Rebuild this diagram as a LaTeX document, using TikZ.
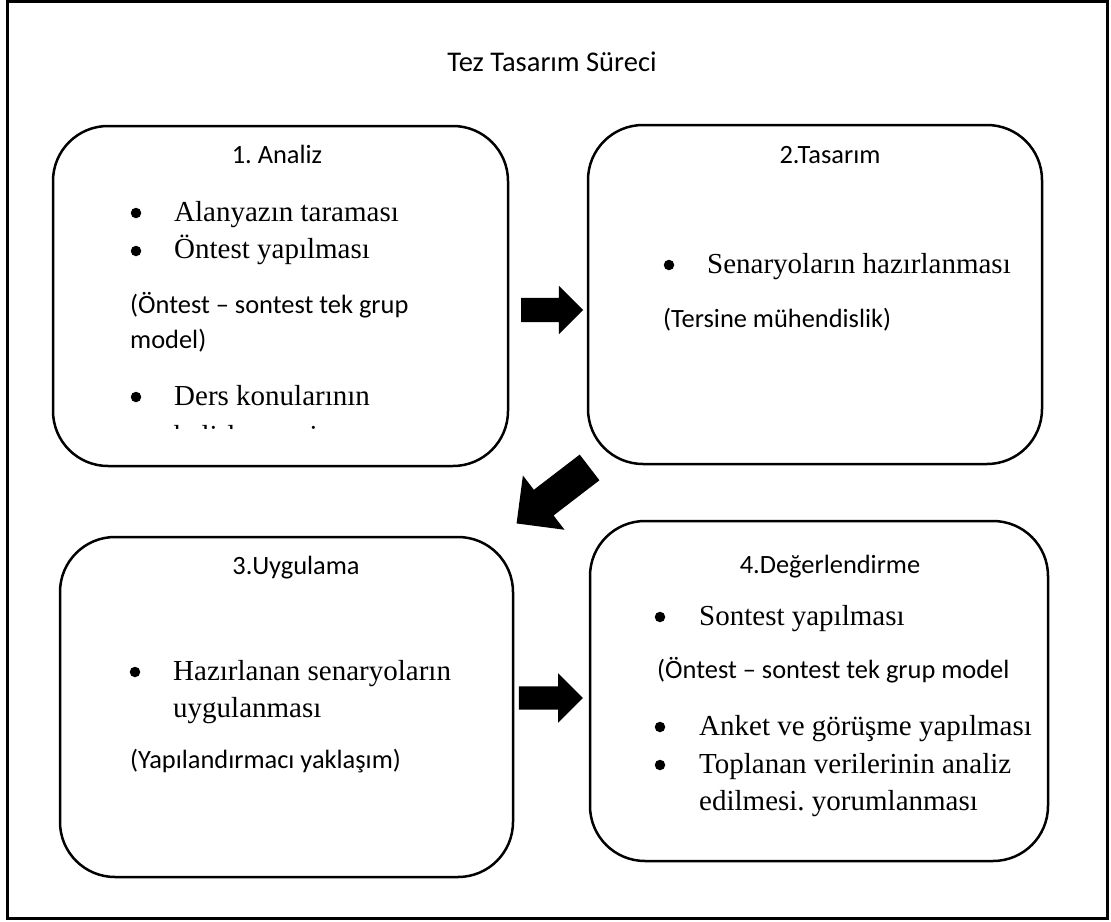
\documentclass[tikz,border=0pt]{standalone}
\usepackage{fontspec}
\setmainfont{Liberation Serif}
\newfontfamily\calibri{Carlito}
\usetikzlibrary{shapes.arrows}
\frenchspacing
\tikzset{
  frame/.style={draw=black,line width=2.5pt},
  stage/.style={draw=black,line width=2.5pt,rounded corners=55pt,inner sep=0pt},
  title/.style={inner sep=0pt,anchor=base,font=\calibri\fontsize{28.5}{34}\selectfont\frenchspacing},
  head/.style={inner sep=0pt,anchor=base,font=\calibri\fontsize{26.4}{35}\selectfont\frenchspacing},
  note/.style={inner sep=0pt,anchor=base west,font=\calibri\fontsize{26.4}{35}\selectfont\frenchspacing},
  item/.style={inner sep=0pt,anchor=base west,font=\fontsize{29}{37.5}\selectfont\frenchspacing},
  dot/.style={circle,fill=black,inner sep=0pt,minimum size=10.5pt},
  block/.style={single arrow,fill=black,draw=none,inner xsep=0pt,
                single arrow head indent=0pt,single arrow tip angle=90}
}
\begin{document}
\begin{tikzpicture}[x=1pt,y=-1pt]
  \useasboundingbox (0,0) rectangle (1111,921);
  \draw[frame] (7.5,1.5) rectangle (1107.5,918.5);
  \node[title] (baslik) at (552,71) {Tez Tasarım Süreci};
  % the four stages
  \node[stage,minimum width=455pt,minimum height=340pt] (analiz) at (280.5,296) {};
  \node[stage,minimum width=454pt,minimum height=339pt] (tasarim) at (815,294.5) {};
  \node[stage,minimum width=453pt,minimum height=340pt] (uygulama) at (286.5,707) {};
  \node[stage,minimum width=458pt,minimum height=340pt] (degerlendirme) at (819,691) {};
  % 1. Analiz
  \node[head] (h1) at (277,163) {1. Analiz};
  \node[item] (i11) at (174,221) {Alanyazın taraması};
  \node[item] (i12) at (174,258) {Öntest yapılması};
  \node[note] (n11) at (130,313) {(Öntest – sontest tek grup};
  \node[note] (n12) at (130,348) {model)};
  \node[item] (i13) at (174,405) {Ders konularının};
  \begin{scope}
    \clip (60,380) rectangle (500,428.5);
    \node[item] (i14) at (174,445) {belirlenmesi};
  \end{scope}
  % 2.Tasarim
  \node[head] (h2) at (830,163) {2.Tasarım};
  \node[item] (i21) at (707,273) {Senaryoların hazırlanması};
  \node[note] (n21) at (663,327) {(Tersine mühendislik)};
  % 3.Uygulama
  \node[head] (h3) at (296,574) {3.Uygulama};
  \node[item] (i31) at (173,680) {Hazırlanan senaryoların};
  \node[item] (i32) at (173,717) {uygulanması};
  \node[note] (n31) at (130,768) {(Yapılandırmacı yaklaşım)};
  % 4.Degerlendirme
  \node[head] (h4) at (830,573) {4.Değerlendirme};
  \node[item] (i41) at (699,625) {Sontest yapılması};
  \node[note] (n41) at (657,678) {(Öntest – sontest tek grup model};
  \node[item] (i42) at (699,735) {Anket ve görüşme yapılması};
  \node[item] (i43) at (699,773) {Toplanan verilerinin analiz};
  \node[item] (i44) at (699,810) {edilmesi. yorumlanması};
  % bullets
  \foreach \n/\x/\y in {d11/136/213,d12/136/251,d13/136/397,d21/669/265,
                        d31/135/672,d41/660/617,d42/660/727,d43/660/765}
    \node[dot] (\n) at (\x,\y) {};
  % block arrows between the stages
  \node[block,minimum height=62pt,inner ysep=12pt,single arrow head extend=12pt] (a12) at (546,310) {};
  \node[block,minimum height=92pt,inner ysep=16pt,single arrow head extend=18pt,rotate=217.5] (a23) at (559.5,490.5) {};
  \node[block,minimum height=64pt,inner ysep=11.5pt,single arrow head extend=13pt] (a34) at (545,698) {};
\end{tikzpicture}
\end{document}
